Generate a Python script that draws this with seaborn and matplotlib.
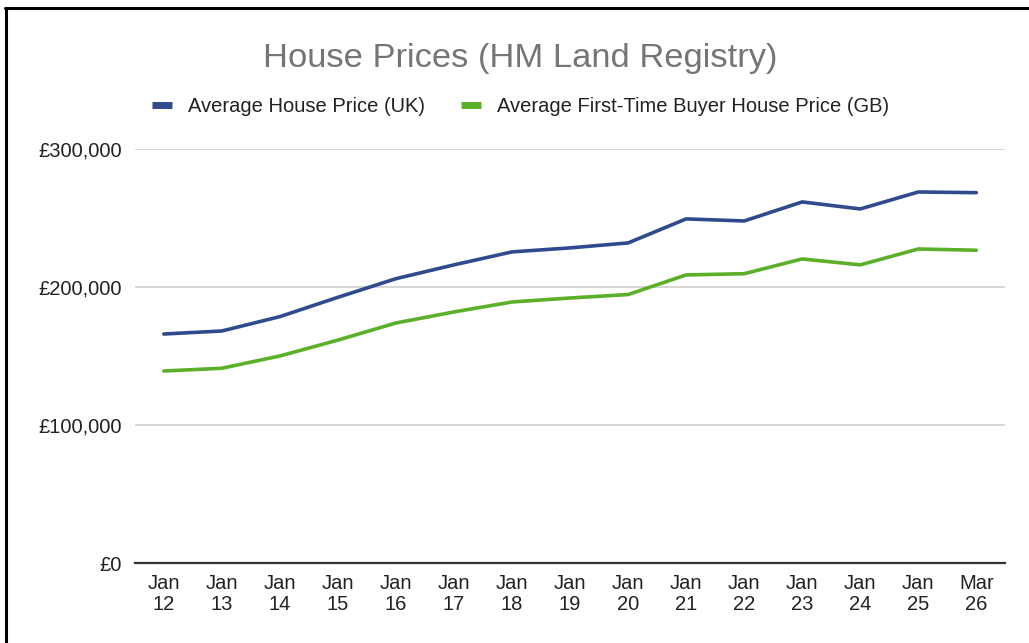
import matplotlib
matplotlib.use("Agg")
import matplotlib.pyplot as plt
import seaborn as sns
import pandas as pd
from matplotlib.lines import Line2D
from matplotlib.ticker import FuncFormatter

# Data
periods = ["Jan\n12", "Jan\n13", "Jan\n14", "Jan\n15", "Jan\n16", "Jan\n17", "Jan\n18",
           "Jan\n19", "Jan\n20", "Jan\n21", "Jan\n22", "Jan\n23", "Jan\n24", "Jan\n25",
           "Mar\n26"]
uk_price = [165900, 168100, 178500, 192500, 206000, 216000, 225400, 228300, 231900,
            249300, 247800, 261600, 256500, 268800, 268300]
ftb_price = [139100, 141100, 150000, 161500, 173900, 181900, 189100, 192000, 194500,
             208700, 209600, 220300, 216000, 227500, 226600]

uk_label = "Average House Price (UK)"
ftb_label = "Average First-Time Buyer House Price (GB)"

df = pd.DataFrame({
    "period": periods * 2,
    "price": uk_price + ftb_price,
    "series": [uk_label] * len(periods) + [ftb_label] * len(periods),
})
df["x"] = list(range(len(periods))) * 2

sns.set_theme(style="white")
plt.rcParams["font.family"] = ["Liberation Sans", "DejaVu Sans"]

colors = {uk_label: "#2f4b8d", ftb_label: "#5bb02a"}

fig = plt.figure(figsize=(10.29, 6.43), dpi=100)
ax = fig.add_axes([0.131, 0.1244, 0.846, 0.644])

sns.lineplot(data=df, x="x", y="price", hue="series", palette=colors,
             linewidth=2.6, legend=False, ax=ax)

ax.set_xlim(-0.5, len(periods) - 0.5)
ax.set_ylim(0, 300000)
ax.set_yticks([0, 100000, 200000, 300000])
ax.yaxis.set_major_formatter(FuncFormatter(lambda v, _: f"£{int(v):,}"))
ax.set_xticks(range(len(periods)))
ax.set_xticklabels(periods, linespacing=1.15)
ax.tick_params(axis="both", length=0, labelsize=14.5, colors="#222222")
ax.tick_params(axis="y", pad=9.5)
ax.tick_params(axis="x", pad=8)
ax.set_xlabel("")
ax.set_ylabel("")

ax.grid(axis="y", color="#cccccc", linewidth=1.1)
ax.grid(axis="x", visible=False)
for side in ["top", "right", "left"]:
    ax.spines[side].set_visible(False)
ax.spines["bottom"].set_color("#333333")
ax.spines["bottom"].set_linewidth(1.6)

fig.text(0.506, 0.909, "House Prices (HM Land Registry)", ha="center", va="center",
         fontsize=24.8, color="#757575")

handles = [Line2D([0], [0], color=colors[uk_label], linewidth=5, solid_capstyle="butt"),
           Line2D([0], [0], color=colors[ftb_label], linewidth=5, solid_capstyle="butt")]
fig.legend(handles, [uk_label, ftb_label], loc="center", bbox_to_anchor=(0.506, 0.835),
           ncol=2, frameon=False, fontsize=14.5, handlelength=1.0, handletextpad=0.8,
           columnspacing=1.8, labelcolor="#222222")

# outer frame (left and top edges only, as in the screenshot)
fig.add_artist(Line2D([0.006, 0.006], [0, 0.988], transform=fig.transFigure,
                      color="black", linewidth=2.2))
fig.add_artist(Line2D([0.005, 1], [0.988, 0.988], transform=fig.transFigure,
                      color="black", linewidth=2.2))

fig.savefig("out.png", dpi=100)
